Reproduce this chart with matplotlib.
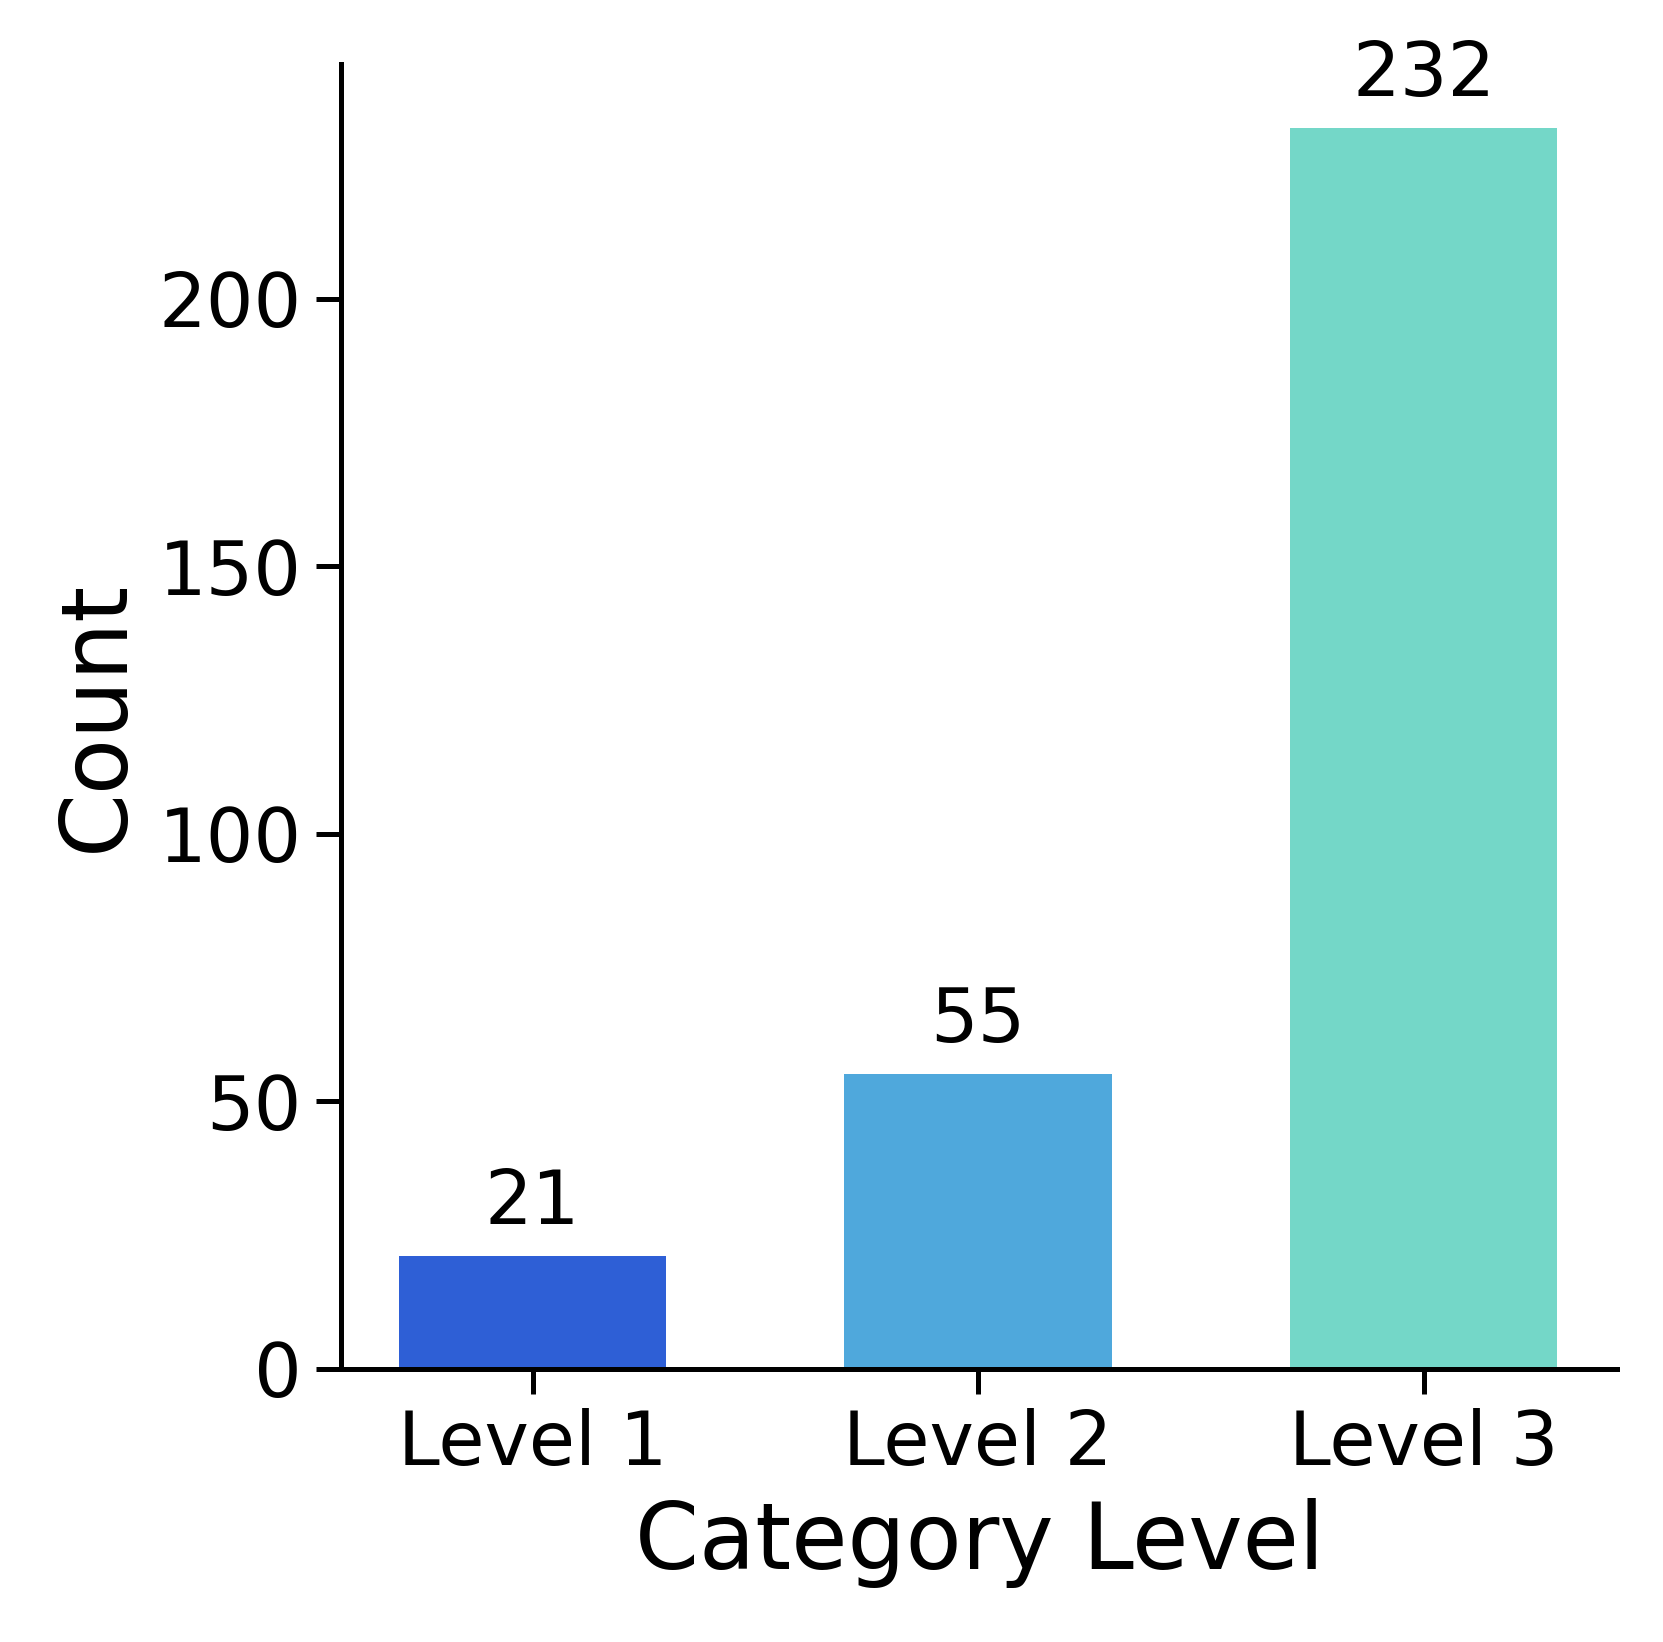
import matplotlib
matplotlib.use("Agg")
import matplotlib.pyplot as plt

categories = ["Level 1", "Level 2", "Level 3"]
counts = [21, 55, 232]
colors = ["#2E5FD6", "#4FA8DC", "#74D7C8"]

W, H = 1570, 1550
fig = plt.figure(figsize=(1663/300, 1642/300), dpi=300)
ax = fig.add_axes([322/W, 1-1292/H, (1527-322)/W, (1292-60)/H])
x = range(len(categories))
bars = ax.bar(x, counts, width=0.6, color=colors)
for b, v in zip(bars, counts):
    ax.text(b.get_x()+b.get_width()/2, v+3, str(v), ha="center", va="bottom", fontsize=18)
ax.set_xticks(list(x))
ax.set_xticklabels(categories, fontsize=18)
ax.tick_params(axis="y", labelsize=18, width=1.2, length=6)
ax.tick_params(axis="x", width=1.2, length=6)
ax.set_yticks([0, 50, 100, 150, 200])
ax.set_xlim(-0.43, 2.435)
ax.set_ylim(0, 244)
ax.set_xlabel("Category Level", fontsize=22)
ax.set_ylabel("Count", fontsize=22)
for s in ["top", "right"]:
    ax.spines[s].set_visible(False)
for s in ["left", "bottom"]:
    ax.spines[s].set_linewidth(1.2)
fig.savefig("out.png", dpi=300)
